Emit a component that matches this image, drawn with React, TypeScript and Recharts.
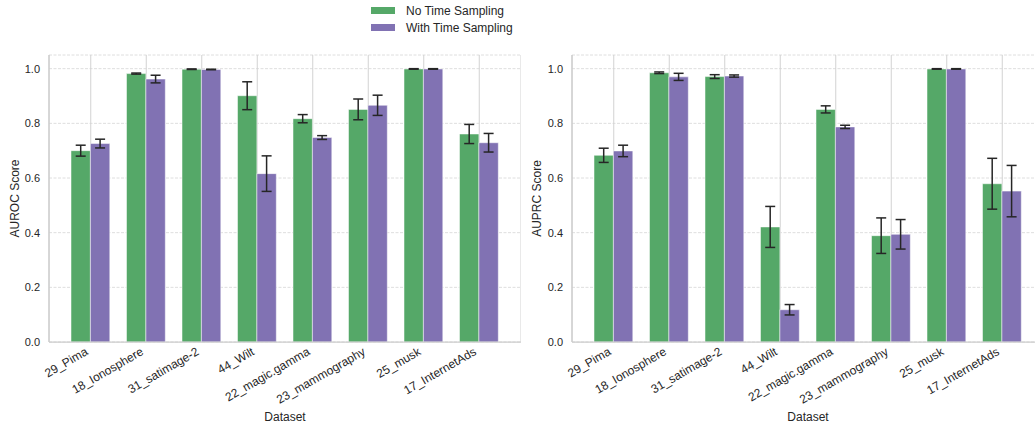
import React from 'react'
import {
  BarChart,
  Bar,
  XAxis,
  YAxis,
  CartesianGrid,
  ErrorBar,
  Legend,
} from 'recharts'

const datasets = [
  '29_Pima',
  '18_Ionosphere',
  '31_satimage-2',
  '44_Wilt',
  '22_magic.gamma',
  '23_mammography',
  '25_musk',
  '17_InternetAds',
]

// AUROC: mean and std per dataset
const aurocNoTime = [0.7, 0.982, 0.998, 0.901, 0.817, 0.851, 0.999, 0.761]
const aurocNoTimeErr = [0.02, 0.002, 0.001, 0.051, 0.015, 0.038, 0.001, 0.035]
const aurocWithTime = [0.726, 0.962, 0.997, 0.616, 0.748, 0.866, 0.999, 0.729]
const aurocWithTimeErr = [0.016, 0.014, 0.001, 0.065, 0.007, 0.037, 0.001, 0.034]

// AUPRC: mean and std per dataset
const auprcNoTime = [0.683, 0.985, 0.971, 0.421, 0.851, 0.389, 0.999, 0.579]
const auprcNoTimeErr = [0.026, 0.003, 0.007, 0.075, 0.013, 0.065, 0.001, 0.093]
const auprcWithTime = [0.699, 0.97, 0.973, 0.118, 0.787, 0.394, 0.999, 0.552]
const auprcWithTimeErr = [0.021, 0.013, 0.004, 0.019, 0.006, 0.054, 0.001, 0.094]

const yTicks = [0, 0.2, 0.4, 0.6, 0.8, 1.0]

const GREEN = '#55a868'
const PURPLE = '#8172b3'
const TEXT = '#262626'
const SPINE = '#cccccc'
const FONT = '"Liberation Sans", Arial, sans-serif'

const buildRows = (a: number[], aErr: number[], b: number[], bErr: number[]) =>
  datasets.map((name, i) => ({
    name,
    noTime: a[i],
    noTimeErr: aErr[i],
    withTime: b[i],
    withTimeErr: bErr[i],
  }))

// category names sit under the axis, rotated 30deg and right-aligned to the tick
const RotatedTick = (props: any) => {
  const { x, y, payload } = props
  const tx = x - 2
  const ty = y + 12
  return (
    <text
      x={tx}
      y={ty}
      textAnchor="end"
      transform={`rotate(-30, ${tx}, ${ty})`}
      fontSize={12}
      fontFamily={FONT}
      fill={TEXT}
    >
      {payload.value}
    </text>
  )
}

const renderLegend = (props: any) => (
  <div style={{ fontFamily: FONT, fontSize: 12, color: TEXT }}>
    {(props.payload || []).map((entry: any) => (
      <div
        key={entry.value}
        style={{ display: 'flex', alignItems: 'center', height: 17, whiteSpace: 'nowrap' }}
      >
        <span
          style={{
            display: 'inline-block',
            flexShrink: 0,
            width: 24,
            height: 7,
            background: entry.color,
            marginRight: 11,
          }}
        />
        {entry.value}
      </div>
    ))}
  </div>
)

interface PanelProps {
  title: string
  yLabel: string
  rows: ReturnType<typeof buildRows>
  left: number
  labelOffset: number
  showLegend?: boolean
}

function Panel({ title, yLabel, rows, left, labelOffset, showLegend }: PanelProps) {
  return (
    <div style={{ position: 'absolute', left, top: 0 }}>
      <BarChart
        width={521}
        height={428}
        data={rows}
        margin={{ top: 55, right: 0, left: 0, bottom: 0 }}
        barGap={0}
      >
        <CartesianGrid vertical={false} stroke="#dedede" strokeDasharray="3 1.5" />
        <CartesianGrid horizontal={false} stroke="#d2d2d2" />
        <XAxis
          dataKey="name"
          interval={0}
          height={86}
          padding={{ left: 14, right: 14 }}
          tickLine={false}
          tickSize={0}
          tickMargin={0}
          axisLine={{ stroke: SPINE, strokeWidth: 1.25 }}
          tick={<RotatedTick />}
          label={{
            value: 'Dataset',
            position: 'insideBottom',
            offset: 7,
            fontSize: 12,
            fontFamily: FONT,
            fill: TEXT,
          }}
        />
        <XAxis
          xAxisId="top"
          orientation="top"
          dataKey="name"
          height={0}
          tick={false}
          tickLine={false}
          axisLine={{ stroke: SPINE, strokeWidth: 1.25 }}
          label={{
            value: title,
            position: 'top',
            offset: 6,
            fontSize: 12,
            fontFamily: FONT,
            fill: TEXT,
          }}
        />
        <YAxis
          width={49}
          domain={[0, 1.05]}
          ticks={yTicks}
          tickFormatter={(v: number) => v.toFixed(1)}
          tickLine={false}
          tickSize={0}
          tickMargin={9}
          tick={{ fontSize: 11, fontFamily: FONT, fill: TEXT }}
          axisLine={{ stroke: SPINE, strokeWidth: 1.25 }}
          label={{
            value: yLabel,
            angle: -90,
            position: 'insideLeft',
            offset: labelOffset,
            fontSize: 12,
            fontFamily: FONT,
            fill: TEXT,
            style: { textAnchor: 'middle' },
          }}
        />
        <YAxis
          yAxisId="right"
          orientation="right"
          width={0}
          tick={false}
          tickLine={false}
          axisLine={{ stroke: SPINE, strokeWidth: 1.25 }}
        />
        {showLegend && (
          <Legend
            layout="vertical"
            verticalAlign="top"
            align="left"
            content={renderLegend}
            wrapperStyle={{ left: 371, top: 2, width: 0, height: 0 }}
          />
        )}
        <Bar
          dataKey="noTime"
          name="No Time Sampling"
          fill={GREEN}
          stroke="#ffffff"
          strokeOpacity={0.5}
          barSize={19.4}
          isAnimationActive={false}
        >
          <ErrorBar dataKey="noTimeErr" width={5} stroke={TEXT} strokeWidth={1.5} direction="y" />
        </Bar>
        <Bar
          dataKey="withTime"
          name="With Time Sampling"
          fill={PURPLE}
          stroke="#ffffff"
          strokeOpacity={0.5}
          barSize={19.4}
          isAnimationActive={false}
        >
          <ErrorBar dataKey="withTimeErr" width={5} stroke={TEXT} strokeWidth={1.5} direction="y" />
        </Bar>
      </BarChart>
    </div>
  )
}

export default function App() {
  const aurocRows = buildRows(aurocNoTime, aurocNoTimeErr, aurocWithTime, aurocWithTimeErr)
  const auprcRows = buildRows(auprcNoTime, auprcNoTimeErr, auprcWithTime, auprcWithTimeErr)

  return (
    <div
      style={{
        position: 'absolute',
        left: 0,
        top: 0,
        width: 1035,
        height: 428,
        overflow: 'hidden',
        background: '#ffffff',
      }}
    >
      <Panel
        title="Effect of Time-weighted Sampling on AUROC"
        yLabel="AUROC Score"
        rows={aurocRows}
        left={0}
        labelOffset={15}
        showLegend
      />
      <Panel
        title="Effect of Time-weighted Sampling on AUPRC"
        yLabel="AUPRC Score"
        rows={auprcRows}
        left={523}
        labelOffset={14}
      />
    </div>
  )
}
